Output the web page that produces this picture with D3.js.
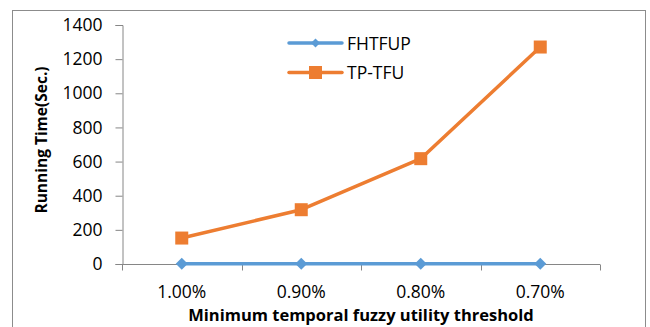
<!DOCTYPE html>
<html>
<head>
<meta charset="utf-8">
<script src="https://cdn.jsdelivr.net/npm/d3@7"></script>
<style>
  html, body { margin: 0; padding: 0; background: #fff; }
  svg { display: block; }
  text { font-family: "Open Sans", "Liberation Sans", sans-serif; fill: #000; }
</style>
</head>
<body>
<svg id="chart" width="650" height="327"></svg>
<script>
// Running time of the two algorithms for each threshold
const thresholds = ["1.00%", "0.90%", "0.80%", "0.70%"];
const fhtfupTimes = [2, 2, 2, 2];
const tptfuTimes = [152, 318, 617, 1271];
const yTicks = [0, 200, 400, 600, 800, 1000, 1200, 1400];
const seriesNames = ["FHTFUP", "TP-TFU"];
const seriesColors = ["#5B9BD5", "#ED7D31"];

const svg = d3.select("#chart");
const plot = { left: 122, right: 600, top: 25, bottom: 264 };
const axisColor = "#868686";
const labelSize = 17.5;

// chart frame
svg.append("rect")
  .attr("x", 12.5).attr("y", 10.5)
  .attr("width", 633).attr("height", 330)
  .attr("fill", "none").attr("stroke", "#8c8c8c").attr("stroke-width", 1);

const x = d3.scaleBand().domain(thresholds).range([plot.left, plot.right]);
const y = d3.scaleLinear().domain([0, 1400]).range([plot.bottom, plot.top]);

// y axis
const yAxis = svg.append("g")
  .attr("transform", `translate(${plot.left + 0.5},0)`)
  .call(d3.axisLeft(y).tickValues(yTicks).tickSize(7).tickPadding(13).tickFormat(d3.format("d")));
yAxis.select(".domain").attr("stroke", axisColor);
yAxis.selectAll(".tick line").attr("stroke", axisColor);
yAxis.selectAll(".tick text")
  .attr("font-size", labelSize).attr("font-family", "Open Sans").attr("fill", "#000");

// x axis with tick marks on the band boundaries
const xAxisG = svg.append("g").attr("transform", `translate(0,${plot.bottom + 0.5})`);
xAxisG.append("line")
  .attr("x1", plot.left).attr("x2", plot.right)
  .attr("stroke", axisColor);
const boundaries = thresholds.map(d => x(d)).concat([x(thresholds[thresholds.length - 1]) + x.bandwidth()]);
xAxisG.selectAll("line.bt").data(boundaries).join("line")
  .attr("class", "bt")
  .attr("x1", d => Math.round(d) + 0.5).attr("x2", d => Math.round(d) + 0.5)
  .attr("y1", 0).attr("y2", 6)
  .attr("stroke", axisColor);
xAxisG.selectAll("text").data(thresholds).join("text")
  .attr("x", d => x(d) + x.bandwidth() / 2)
  .attr("y", 33)
  .attr("text-anchor", "middle")
  .attr("font-size", labelSize)
  .text(d => d);

// axis titles
svg.append("text")
  .attr("transform", "translate(47,140) rotate(-90)")
  .attr("text-anchor", "middle")
  .attr("font-size", 15.5).attr("font-weight", "bold")
  .text("Running Time(Sec.)");
svg.append("text")
  .attr("x", 361).attr("y", 321)
  .attr("text-anchor", "middle")
  .attr("font-size", 16.5).attr("font-weight", "bold")
  .text("Minimum temporal fuzzy utility threshold");

// series lines and markers
const cx = d => x(d) + x.bandwidth() / 2;
const line = d3.line().x(d => cx(d.t)).y(d => y(d.v));
const series = [
  { name: seriesNames[0], color: seriesColors[0], values: fhtfupTimes, marker: "diamond" },
  { name: seriesNames[1], color: seriesColors[1], values: tptfuTimes, marker: "square" }
];

function drawMarker(g, kind, color, px, py, inLegend) {
  if (kind === "diamond") {
    g.append("path")
      .attr("d", d3.symbol().type(d3.symbolDiamond2).size(inLegend ? 52 : 92)())
      .attr("transform", `translate(${px},${py})`)
      .attr("fill", color);
  } else {
    g.append("rect")
      .attr("x", px - 6.5).attr("y", py - 6.5)
      .attr("width", 13).attr("height", 13)
      .attr("fill", color);
  }
}

series.forEach(s => {
  const pts = thresholds.map((t, i) => ({ t, v: s.values[i] }));
  const g = svg.append("g");
  g.append("path")
    .attr("d", line(pts))
    .attr("fill", "none")
    .attr("stroke", s.color)
    .attr("stroke-width", 3.5)
    .attr("stroke-linejoin", "round");
  pts.forEach(p => drawMarker(g, s.marker, s.color, cx(p.t), y(p.v), false));
});

// legend
const legend = svg.append("g");
series.forEach((s, i) => {
  const ly = 43 + i * 29.5;
  legend.append("line")
    .attr("x1", 289).attr("x2", 342)
    .attr("y1", ly).attr("y2", ly)
    .attr("stroke", s.color).attr("stroke-width", 3.5).attr("stroke-linecap", "round");
  drawMarker(legend, s.marker, s.color, 315.5, ly, true);
  legend.append("text")
    .attr("x", 347).attr("y", ly + 6.5)
    .attr("font-size", labelSize)
    .text(s.name);
});
</script>
</body>
</html>
